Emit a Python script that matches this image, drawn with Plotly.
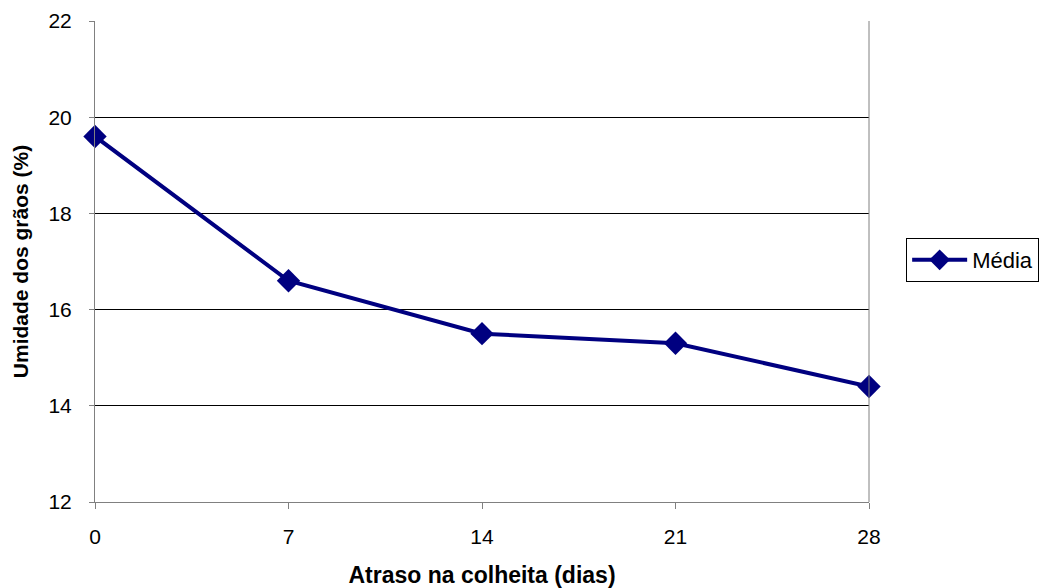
import plotly.graph_objects as go

# Harvest delay (days) and mean grain moisture (%)
dias = [0, 7, 14, 21, 28]
umidade = [19.6, 16.6, 15.5, 15.3, 14.4]
x_ticks = [0, 7, 14, 21, 28]
y_ticks = [12, 14, 16, 18, 20, 22]

fig = go.Figure()
fig.add_trace(go.Scatter(
    x=dias, y=umidade, name="Média", mode="lines+markers",
    line=dict(color="#000080", width=4),
    marker=dict(symbol="diamond", size=18, color="#000080"),
    cliponaxis=False,
))

font = "Liberation Sans, Arial, sans-serif"
fig.update_layout(
    width=1045, height=588,
    margin=dict(l=95, r=176, t=21, b=86, autoexpand=False),
    paper_bgcolor="white", plot_bgcolor="white",
    font=dict(family=font, color="black", size=21),
    showlegend=True,
    legend=dict(
        x=1.048, y=0.503, xanchor="left", yanchor="middle",
        bordercolor="black", borderwidth=1, bgcolor="white",
        font=dict(size=22), itemwidth=55,
    ),
    xaxis=dict(
        range=[0, 28], tickvals=x_ticks, showgrid=False, zeroline=False,
        showline=True, linecolor="#808080", linewidth=1,
        ticks="outside", ticklen=6, tickcolor="#808080",
        ticklabelstandoff=10, tickfont=dict(size=21), automargin=False,
        title=dict(text="<b>Atraso na colheita (dias)</b>", font=dict(size=23), standoff=20),
    ),
    yaxis=dict(
        range=[12, 22], tickvals=y_ticks, showgrid=True, gridcolor="black", gridwidth=1,
        zeroline=False, showline=True, linecolor="#808080", linewidth=1,
        ticks="outside", ticklen=5, tickcolor="#808080",
        ticklabelstandoff=13, tickfont=dict(size=21), automargin=False,
        title=dict(text="<b>Umidade dos grãos (%)</b>", font=dict(size=21), standoff=14),
    ),
)
# right border of the plot area
fig.add_shape(type="line", xref="paper", yref="paper", x0=1, x1=1, y0=0, y1=1,
              line=dict(color="#808080", width=1))

fig.write_html("out.html")
